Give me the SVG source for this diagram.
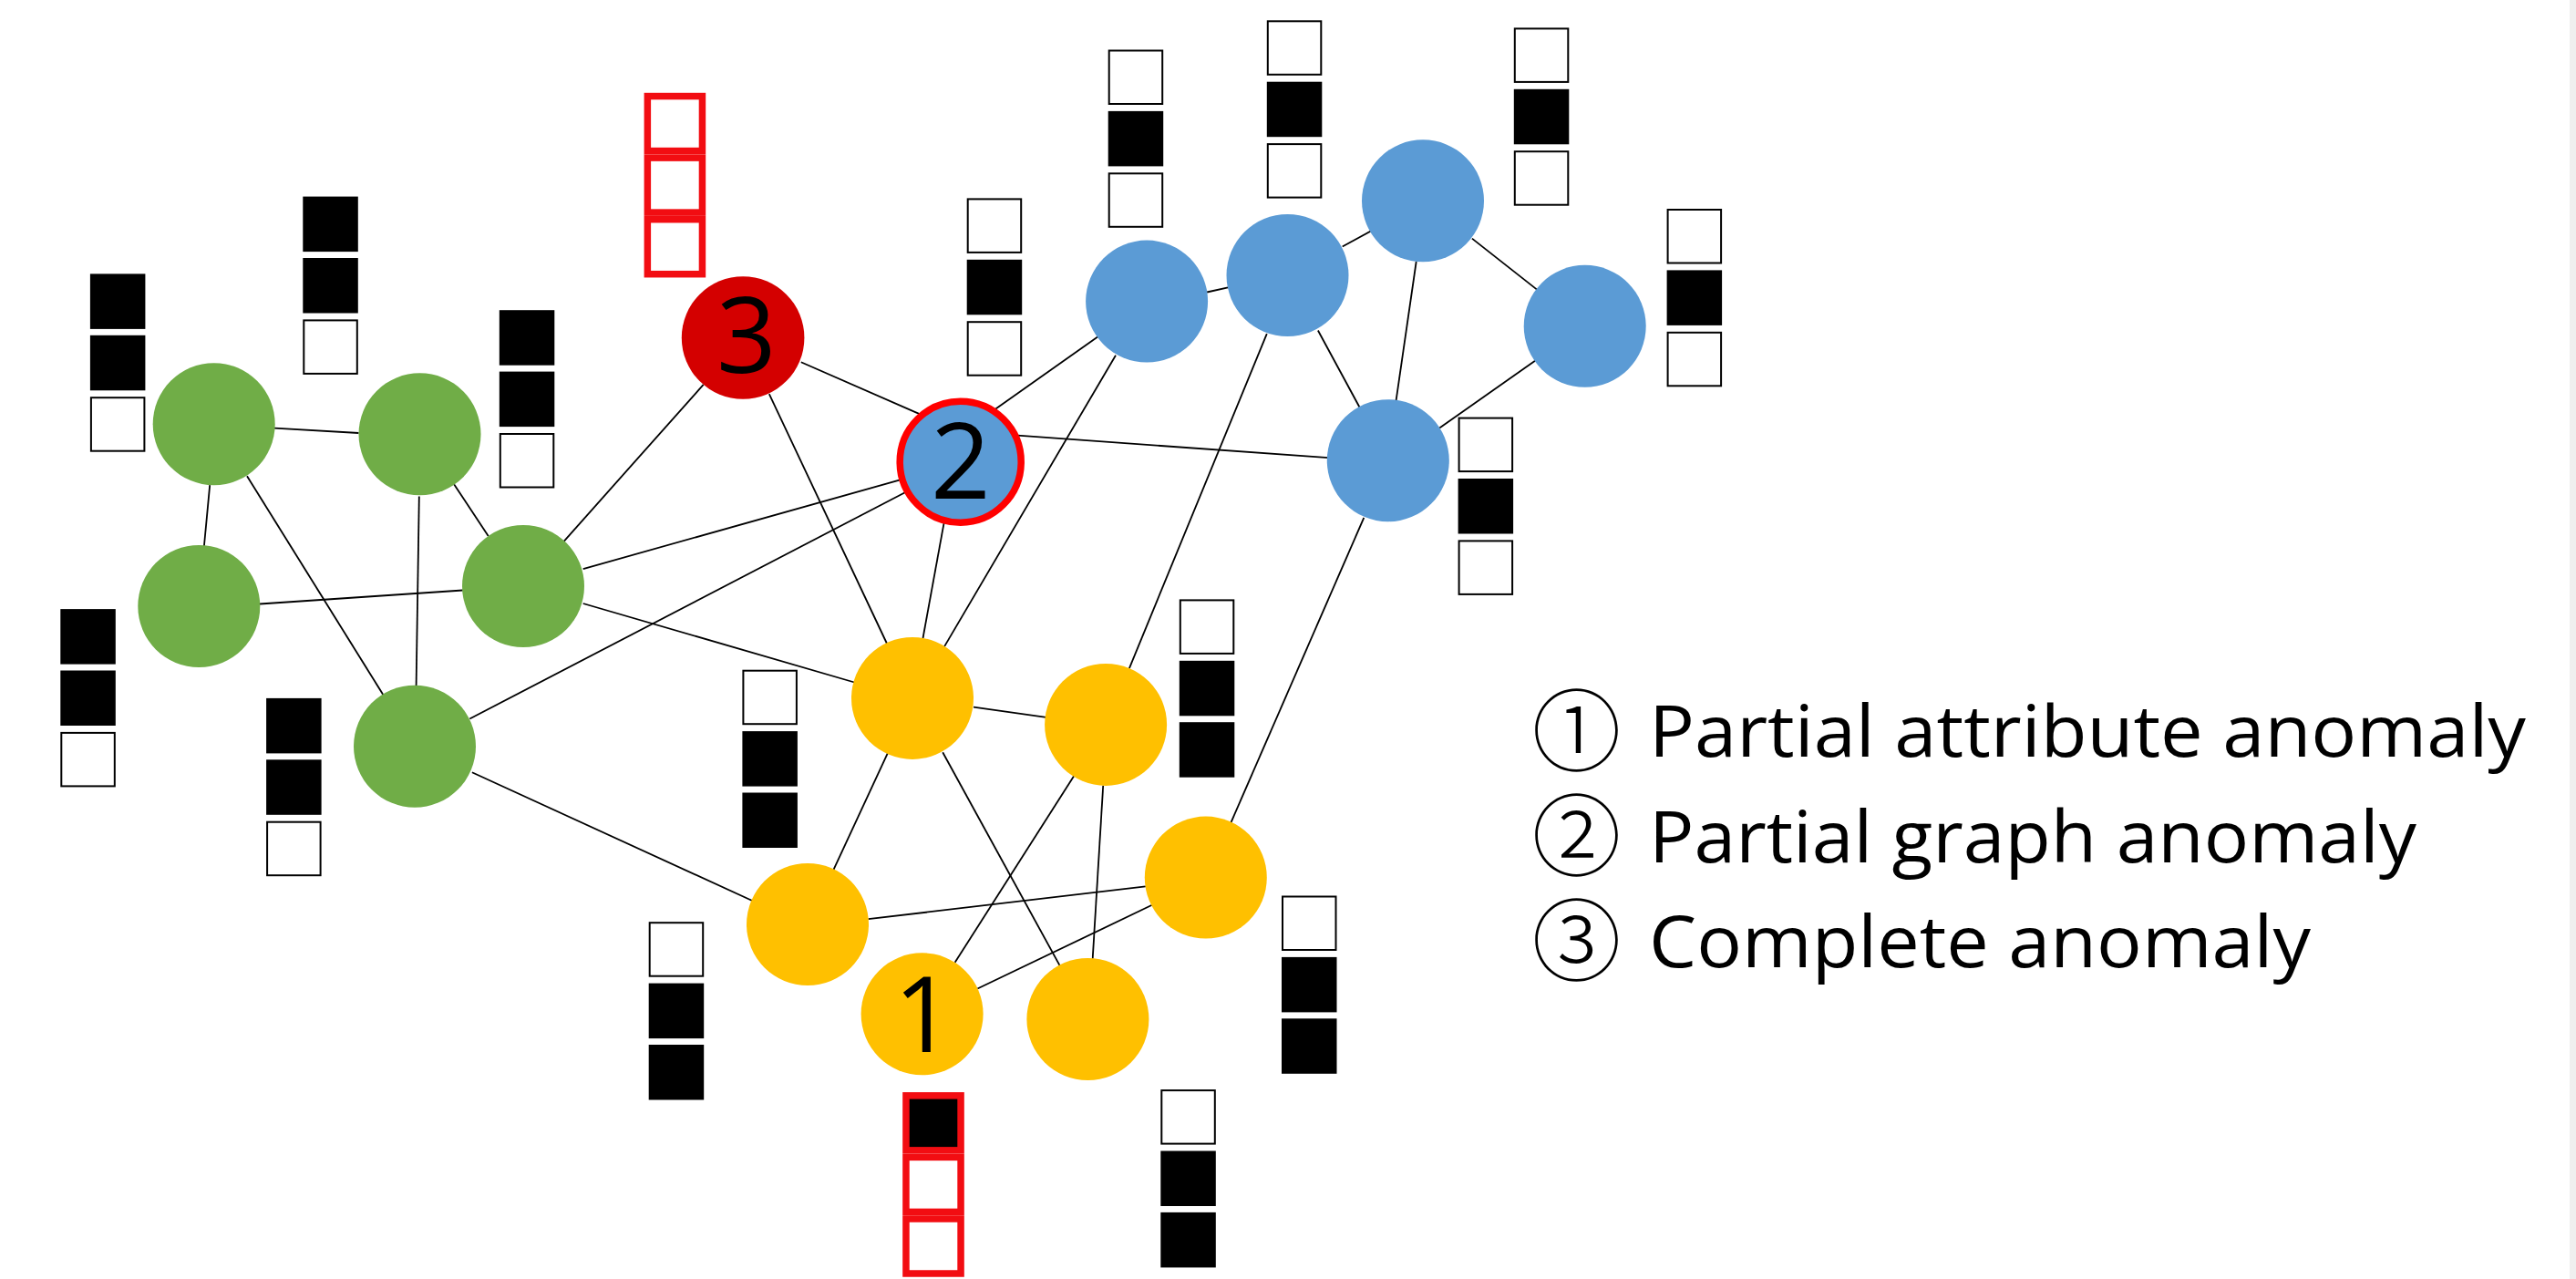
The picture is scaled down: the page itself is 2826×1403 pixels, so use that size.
<svg xmlns="http://www.w3.org/2000/svg" width="2826" height="1403" viewBox="0 0 2826 1403">
<style>
.e{stroke:#000;stroke-width:1.8;fill:none}
.g{fill:#70AD47}
.bl{fill:#5B9BD5}
.y{fill:#FFC000}
.cb{fill:#000}
.cw{fill:#fff;stroke:#000;stroke-width:2}
.rc{fill:#fff;stroke:#F20D12;stroke-width:7.5}
.rk{fill:#000;stroke:#F20D12;stroke-width:7.5}
.lbl{font-family:'Open Sans','Liberation Sans',sans-serif;font-size:115px;fill:#000;text-anchor:middle}
.leg{font-family:'Open Sans','Liberation Sans',sans-serif;font-size:78px;fill:#000}
.cir{font-family:'DejaVu Sans','Noto Sans CJK JP',sans-serif;font-size:98px;font-weight:200;fill:#000;text-anchor:middle}
</style>
<defs>
<g id="bbw"><rect class="cb" x="0" y="0" width="60.5" height="60.5"/><rect class="cb" x="0" y="67.4" width="60.5" height="60.5"/><rect class="cw" x="1" y="135.8" width="58.5" height="58.5"/></g>
<g id="wbb"><rect class="cw" x="1" y="1" width="58.5" height="58.5"/><rect class="cb" x="0" y="67.4" width="60.5" height="60.5"/><rect class="cb" x="0" y="134.8" width="60.5" height="60.5"/></g>
<g id="wbw"><rect class="cw" x="1" y="1" width="58.5" height="58.5"/><rect class="cb" x="0" y="67.4" width="60.5" height="60.5"/><rect class="cw" x="1" y="135.8" width="58.5" height="58.5"/></g>
</defs>
<rect x="0" y="0" width="2826" height="1403" fill="#fff"/>
<rect x="2819" y="0" width="7" height="1403" fill="#efefef"/>
<g id="connectors">
<line class="e" x1="301" y1="469.6" x2="393.5" y2="475"/>
<line class="e" x1="230.2" y1="532.1" x2="223.9" y2="599.1"/>
<line class="e" x1="271" y1="522.3" x2="420.9" y2="762.9"/>
<line class="e" x1="459.8" y1="544.6" x2="456.6" y2="752.1"/>
<line class="e" x1="498.1" y1="531.3" x2="535.7" y2="588"/>
<line class="e" x1="285" y1="662.5" x2="507.7" y2="647.5"/>
<line class="e" x1="618.6" y1="593.8" x2="771.7" y2="421.9"/>
<line class="e" x1="639.7" y1="624.1" x2="989.3" y2="525.9"/>
<line class="e" x1="515.3" y1="788.5" x2="995.7" y2="538.8"/>
<line class="e" x1="639.7" y1="662" x2="937.3" y2="748.5"/>
<line class="e" x1="517.9" y1="847.3" x2="827.4" y2="989"/>
<line class="e" x1="878.8" y1="397.3" x2="1011.6" y2="455.4"/>
<line class="e" x1="843.8" y1="432.1" x2="973" y2="706"/>
<line class="e" x1="1088.8" y1="450.9" x2="1204.2" y2="369.6"/>
<line class="e" x1="1116.2" y1="477.7" x2="1457.4" y2="502.2"/>
<line class="e" x1="1035.8" y1="572.3" x2="1012.5" y2="700"/>
<line class="e" x1="1324.1" y1="320.5" x2="1348.3" y2="315.2"/>
<line class="e" x1="1224" y1="389.7" x2="1036.1" y2="709.1"/>
<line class="e" x1="1472.7" y1="270.5" x2="1504.6" y2="253.1"/>
<line class="e" x1="1445.9" y1="362.5" x2="1491.8" y2="447.3"/>
<line class="e" x1="1389.8" y1="366.1" x2="1238.9" y2="733.1"/>
<line class="e" x1="1553.7" y1="287" x2="1531.4" y2="440.6"/>
<line class="e" x1="1614.9" y1="261.6" x2="1686.4" y2="317.9"/>
<line class="e" x1="1684.4" y1="395.5" x2="1579.2" y2="469.6"/>
<line class="e" x1="1496.3" y1="567.9" x2="1350.5" y2="902.1"/>
<line class="e" x1="1068" y1="775.7" x2="1147.7" y2="786.9"/>
<line class="e" x1="974.2" y1="825.3" x2="914.3" y2="954.4"/>
<line class="e" x1="1034.2" y1="825.3" x2="1163" y2="1059.9"/>
<line class="e" x1="1178.3" y1="850.9" x2="1047.6" y2="1055.8"/>
<line class="e" x1="1210.2" y1="861.7" x2="1198.7" y2="1051.7"/>
<line class="e" x1="1256.8" y1="972.3" x2="952.6" y2="1008.2"/>
<line class="e" x1="1263.8" y1="992.8" x2="1072.4" y2="1084.5"/>
</g>
<g id="node-g1"><circle class="g" cx="234.7" cy="465.2" r="67"/><use href="#bbw" transform="translate(98.9,300.4)"/></g>
<g id="node-g2"><circle class="g" cx="460.5" cy="476.3" r="67"/><use href="#bbw" transform="translate(332.3,215.6)"/></g>
<g id="node-g3"><circle class="g" cx="218.3" cy="665" r="67"/><use href="#bbw" transform="translate(66.3,668.1)"/></g>
<g id="node-g4"><circle class="g" cx="574" cy="643" r="67"/><use href="#bbw" transform="translate(547.8,340.2)"/></g>
<g id="node-g5"><circle class="g" cx="455" cy="818.7" r="67"/><use href="#bbw" transform="translate(292.1,765.9)"/></g>
<g id="node-3"><circle cx="815.1" cy="370.5" r="67.3" fill="#D40000"/>
<g transform="translate(706.6,101.8)"><rect class="rc" x="3.75" y="3.75" width="60.1" height="60"/><rect class="rc" x="3.75" y="71.3" width="60.1" height="60"/><rect class="rc" x="3.75" y="138.9" width="60.1" height="60"/></g>
<text class="lbl" x="819" y="408.5">3</text></g>
<g id="node-2"><circle cx="1053.7" cy="506.7" r="66.5" fill="#5B9BD5" stroke="#FF0000" stroke-width="7.5"/><use href="#wbw" transform="translate(1060.7,217.4)"/><text class="lbl" x="1054" y="547">2</text></g>
<g id="node-b1"><circle class="bl" cx="1258.1" cy="330.6" r="67"/><use href="#wbw" transform="translate(1215.7,54.5)"/></g>
<g id="node-b2"><circle class="bl" cx="1412.5" cy="302" r="67"/><use href="#wbw" transform="translate(1389.8,22.3)"/></g>
<g id="node-b3"><circle class="bl" cx="1561" cy="220.3" r="67"/><use href="#wbw" transform="translate(1660.8,30.4)"/></g>
<g id="node-b4"><circle class="bl" cx="1738.7" cy="357.8" r="67"/><use href="#wbw" transform="translate(1828.6,229)"/></g>
<g id="node-b5"><circle class="bl" cx="1522.8" cy="505.2" r="67"/><use href="#wbw" transform="translate(1599.6,457.6)"/></g>
<g id="node-y1"><circle class="y" cx="1001" cy="765.9" r="67"/><use href="#wbb" transform="translate(814.4,734.7)"/></g>
<g id="node-y2"><circle class="y" cx="1213.1" cy="794.9" r="67"/><use href="#wbb" transform="translate(1293.8,657.4)"/></g>
<g id="node-y3"><circle class="y" cx="1322.8" cy="962.6" r="67"/><use href="#wbb" transform="translate(1406,982.5)"/></g>
<g id="node-y4"><circle class="y" cx="886" cy="1014" r="67"/><use href="#wbb" transform="translate(711.7,1011.2)"/></g>
<g id="node-1"><circle class="y" cx="1011.6" cy="1112.3" r="67"/>
<g transform="translate(990.2,1198.1)"><rect class="rk" x="3.75" y="3.75" width="60.1" height="60"/><rect class="rc" x="3.75" y="71.3" width="60.1" height="60"/><rect class="rc" x="3.75" y="138.9" width="60.1" height="60"/></g>
<text class="lbl" x="1013.5" y="1153.6">1</text></g>
<g id="node-y6"><circle class="y" cx="1193.4" cy="1118" r="67"/><use href="#wbb" transform="translate(1273.3,1195.1)"/></g>
<g id="legend">
<text class="cir" x="1729.5" y="838">①</text>
<text class="cir" x="1729.5" y="953">②</text>
<text class="cir" x="1729.5" y="1068">③</text>
<text class="leg" x="1809" y="830" textLength="962" lengthAdjust="spacingAndGlyphs">Partial attribute anomaly</text>
<text class="leg" x="1809" y="945.7" textLength="842" lengthAdjust="spacingAndGlyphs">Partial graph anomaly</text>
<text class="leg" x="1809" y="1060.7" textLength="726" lengthAdjust="spacingAndGlyphs">Complete anomaly</text>
</g>
</svg>
